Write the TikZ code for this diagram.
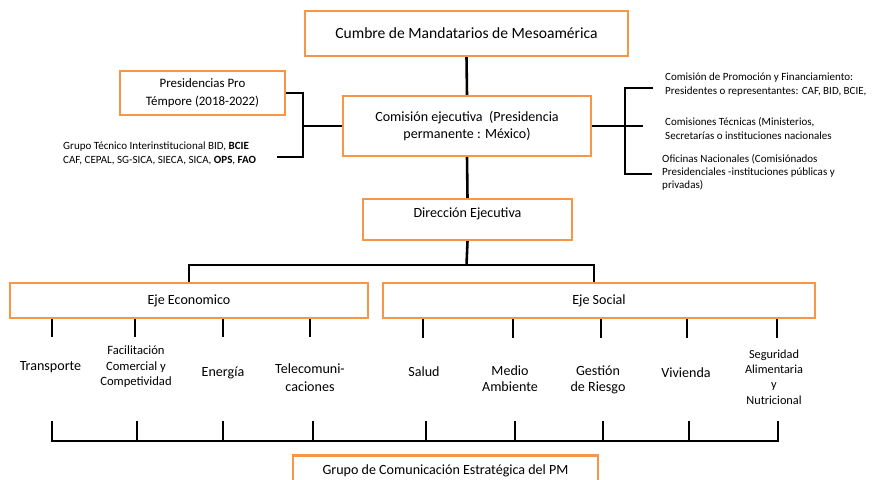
\documentclass[tikz,border=0pt]{standalone}
\usepackage{fontspec}
\setmainfont{Carlito}
\usetikzlibrary{positioning}

\definecolor{naranja}{HTML}{F79646}

\tikzset{
    caja/.style = {draw = naranja, line width = 2pt, inner sep = 0pt, align = center},
    linea/.style = {draw = black, line width = 2.2pt},
    rama/.style = {align = center, font = \fontsize{12}{14.5}\selectfont},
    nota/.style = {align = left, inner sep = 0pt, font = \fontsize{9.4}{11.5}\selectfont}
}

\begin{document}
\begin{tikzpicture}[x = 0.03cm, y = -0.03cm]

    \useasboundingbox (0,0) rectangle (876,479);
    \clip (0,0) rectangle (876,479);


    \node[caja,
    minimum width = 9.69cm,
    minimum height = 1.35cm,
    font = \fontsize{13.3}{16}\selectfont] (cumbre) at (466.5,33.5) {Cumbre de Mandatarios de Mesoamérica};

    \node[caja,
    minimum width = 7.44cm,
    minimum height = 1.8cm,
    font = \fontsize{12}{14.5}\selectfont] (comision) at (467,126) {Comisión ejecutiva\ \ (Presidencia\\permanente : México)};

    \node[caja,
    minimum width = 6.27cm,
    minimum height = 1.23cm,
    label = {[rama, yshift = 5pt]center:Dirección Ejecutiva}] (direccion) at (467.5,219.5) {};

    \node[caja,
    minimum width = 4.95cm,
    minimum height = 1.32cm,
    font = \fontsize{11}{15}\selectfont] (presid) at (202.5,93) {Presidencias Pro\\Témpore (2018-2022)};

    \node[caja,
    minimum width = 10.74cm,
    minimum height = 1.05cm,
    font = \fontsize{12}{14.5}\selectfont] (ecoeje) at (189,300.5) {Eje Economico};

    \node[caja,
    minimum width = 12.96cm,
    minimum height = 1.05cm,
    font = \fontsize{12}{14.5}\selectfont] (socialeje) at (599,300.5) {Eje Social};

    \node[caja,
    minimum width = 9.15cm,
    minimum height = 0.93cm,
    font = \fontsize{12}{14.5}\selectfont] (grupo) at (445.5,471) {Grupo de Comunicación Estratégica del PM};


    \node[nota, anchor = west] (grupotec) at (63,153.5) {Grupo Técnico Interinstitucional BID, \textbf{BCIE}\\CAF, CEPAL, SG-SICA, SIECA, SICA, \textbf{OPS}, \textbf{FAO}};

    \node[nota, anchor = west, font = \fontsize{9.4}{12}\selectfont] (promo) at (665,85) {Comisión de Promoción y Financiamiento:\\Presidentes o representantes: CAF, BID, BCIE,};
    \node[nota, anchor = west, font = \fontsize{9.4}{12}\selectfont] (tecn) at (665,128.5) {Comisiones Técnicas (Ministerios,\\Secretarías o instituciones nacionales};
    \node[nota, anchor = west, font = \fontsize{9.4}{10.8}\selectfont] (ofic) at (662,172.5) {Oficinas Nacionales (Comisiónados\\Presidenciales -instituciones públicas y\\privadas)};


    \node[rama] (trans) at (50.5,367) {Transporte};
    \node[rama, font = \fontsize{10.8}{13.3}\selectfont] (facil) at (136,367) {Facilitación\\Comercial y\\Competividad};
    \node[rama] (energ) at (223,373) {Energía};
    \node[rama, font = \fontsize{12}{15.3}\selectfont] (tele) at (310,378) {Telecomuni-\\caciones};

    \node[rama] (salud) at (424,372) {Salud};
    \node[rama, font = \fontsize{12}{13.6}\selectfont] (medio) at (510,379) {Medio\\Ambiente};
    \node[rama, font = \fontsize{12}{13.6}\selectfont] (gestion) at (598,380) {Gestión\\de Riesgo};
    \node[rama] (vivienda) at (686,373) {Vivienda};
    \node[rama, font = \fontsize{10.5}{13}\selectfont] (segur) at (774,377) {Seguridad\\Alimentaria\\y\\Nutricional};


    \draw[linea] (cumbre.south) to (comision.north);
    \draw[linea] (comision.south) to (direccion.north);

    \coordinate (ejes) at (466.5,265);
    \coordinate (ecoarm) at (189,265);
    \coordinate (socarm) at (594,265);
    \draw[linea] (direccion.south) to (ejes);
    \draw[linea] (ecoeje.north) -- (ecoarm) -- (socarm) -- (socarm |- socialeje.north);

    \coordinate (lcorner) at (303,157);
    \coordinate (lend) at (277,157);
    \draw[linea] (presid.east) -| (lcorner) -- (lend);
    \draw[linea] (comision.west) to (comision.west -| lcorner);

    \coordinate (rtop) at (625,88);
    \coordinate (rtopend) at (653,88);
    \coordinate (rbot) at (625,174);
    \coordinate (rbotend) at (652,174);
    \coordinate (rmid) at (643,126);
    \draw[linea] (rtopend) -- (rtop) -- (rbot) -- (rbotend);
    \draw[linea] (comision.east) to (rmid);


    \coordinate (tt1) at (52,337);
    \coordinate (tt2) at (135,337);
    \coordinate (tt3) at (223,337);
    \coordinate (tt4) at (310,337);
    \coordinate (tt5) at (423,338);
    \coordinate (tt6) at (513,338);
    \coordinate (tt7) at (601,338);
    \coordinate (tt8) at (687,338);
    \coordinate (tt9) at (777,338);

    \draw[linea] (tt1 |- ecoeje.south) to (tt1);
    \draw[linea] (tt2 |- ecoeje.south) to (tt2);
    \draw[linea] (tt3 |- ecoeje.south) to (tt3);
    \draw[linea] (tt4 |- ecoeje.south) to (tt4);
    \draw[linea] (tt5 |- socialeje.south) to (tt5);
    \draw[linea] (tt6 |- socialeje.south) to (tt6);
    \draw[linea] (tt7 |- socialeje.south) to (tt7);
    \draw[linea] (tt8 |- socialeje.south) to (tt8);
    \draw[linea] (tt9 |- socialeje.south) to (tt9);


    \coordinate (bbase) at (0,441);
    \coordinate (bt1) at (52,421);
    \coordinate (bt2) at (137,421);
    \coordinate (bt3) at (223,421);
    \coordinate (bt4) at (313,421);
    \coordinate (bt5) at (426,421);
    \coordinate (bt6) at (515,421);
    \coordinate (bt7) at (603,421);
    \coordinate (bt8) at (689,421);
    \coordinate (bt9) at (778,421);

    \draw[linea] (bt1) |- (bt9 |- bbase) -- (bt9);
    \draw[linea] (bt2) to (bt2 |- bbase);
    \draw[linea] (bt3) to (bt3 |- bbase);
    \draw[linea] (bt4) to (bt4 |- bbase);
    \draw[linea] (bt5) to (bt5 |- bbase);
    \draw[linea] (bt6) to (bt6 |- bbase);
    \draw[linea] (bt7) to (bt7 |- bbase);
    \draw[linea] (bt8) to (bt8 |- bbase);

\end{tikzpicture}
\end{document}
